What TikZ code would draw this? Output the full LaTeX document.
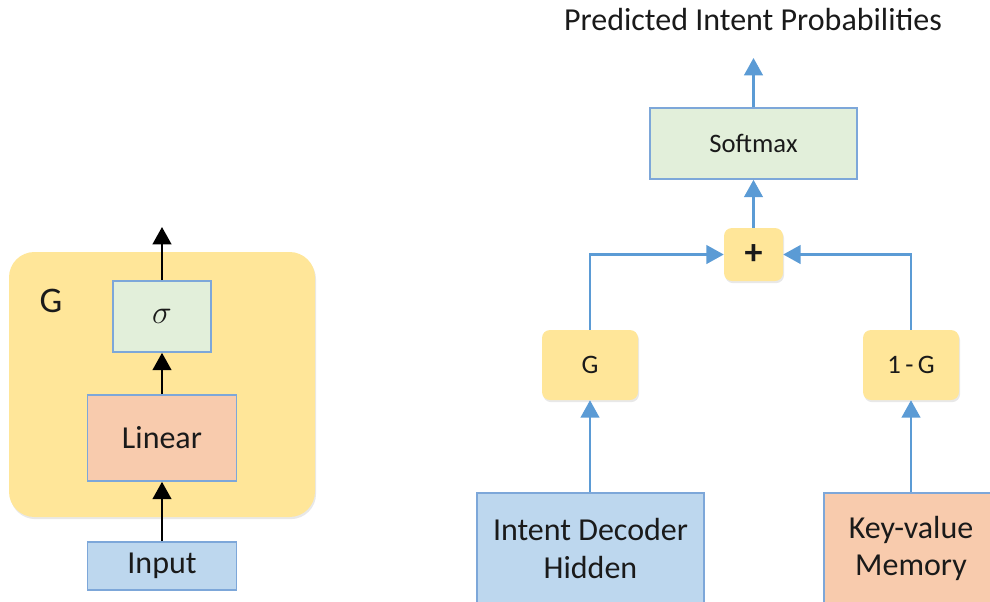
\documentclass[tikz,border=0pt]{standalone}
\usepackage{fontspec}
\setmainfont{Carlito}
\usetikzlibrary{arrows.meta,shadows}
\definecolor{ylw}{HTML}{FFE699}
\definecolor{grn}{HTML}{E2EFDA}
\definecolor{pch}{HTML}{F8CBAD}
\definecolor{lbl}{HTML}{BDD7EE}
\definecolor{bord}{HTML}{7DA7D9}
\definecolor{arr}{HTML}{5B9BD5}
\definecolor{txt}{HTML}{1A1A1A}
\tikzset{
  box/.style={draw=bord, line width=1.2pt, inner sep=0pt, text=txt, align=center},
  soft/.style={fill=ylw, rounded corners=6pt, inner sep=0pt, text=txt,
    drop shadow={opacity=0.18, shadow xshift=0.8pt, shadow yshift=-1.6pt}},
  barr/.style={draw=arr, line width=1.6pt, -{Triangle[width=14pt,length=13pt]}},
  karr/.style={draw=black, line width=1.6pt, -{Triangle[width=14pt,length=13pt]}},
  big/.style={font=\fontsize{24pt}{28pt}\selectfont},
  mid/.style={font=\fontsize{20pt}{24pt}\selectfont},
}
\begin{document}
\begin{tikzpicture}[x=0.75pt,y=-0.75pt]
\useasboundingbox (0,0) rectangle (990,601);
\clip (0,0) rectangle (990,601);
% left: gate G
\node[soft, rounded corners=19pt, minimum width=229.5pt, minimum height=198.75pt] (gbox) at (162,384.5) {};
\node[text=txt, font=\fontsize{27pt}{30pt}\selectfont] (glabel) at (51,301) {G};
\node[box, fill=grn, minimum width=73.5pt, minimum height=53.25pt, big] (sig) at (162,316.5) {$\sigma$};
\node[box, fill=pch, minimum width=111.75pt, minimum height=64.5pt, big] (lin) at (162,438) {Linear};
\node[box, fill=lbl, minimum width=111.75pt, minimum height=36pt, big] (inp) at (162,566) {Input};
\coordinate (gout) at (162,227);
\draw[karr] (sig.north) -- (gout);
\draw[karr] (lin.north) -- (sig.south);
\draw[karr] (inp.north) -- (lin.south);
% right
\node[text=txt, big, anchor=base] (title) at (753,30) {Predicted Intent Probabilities};
\node[box, fill=grn, minimum width=155.25pt, minimum height=53.25pt, mid] (soft) at (753.5,143.5) {Softmax};
\coordinate (sout) at (753.5,58);
\node[soft, minimum width=44.25pt, minimum height=39.75pt, font=\fontsize{27pt}{30pt}\selectfont] (plus) at (753.5,254.5) {\textbf{+}};
\node[soft, minimum width=72pt, minimum height=52.5pt, mid] (g) at (590,365) {G};
\node[soft, minimum width=72pt, minimum height=52.5pt, mid] (omg) at (911,365) {1\,-\,G};
\node[box, fill=lbl, minimum width=170.25pt, minimum height=83.25pt, big] (idh) at (590.5,548.5) {Intent Decoder\\Hidden};
\node[box, fill=pch, minimum width=130.5pt, minimum height=83.25pt, big] (kv) at (911,548.5) {Key-value\\Memory};
\draw[barr] (soft.north) -- (sout);
\draw[barr] (plus.north) -- (soft.south);
\draw[barr] (g.north) |- (plus.west);
\draw[barr] (omg.north) |- (plus.east);
\draw[barr] (idh.north -| g.south) -- (g.south);
\draw[barr] (kv.north) -- (omg.south);
\end{tikzpicture}
\end{document}
